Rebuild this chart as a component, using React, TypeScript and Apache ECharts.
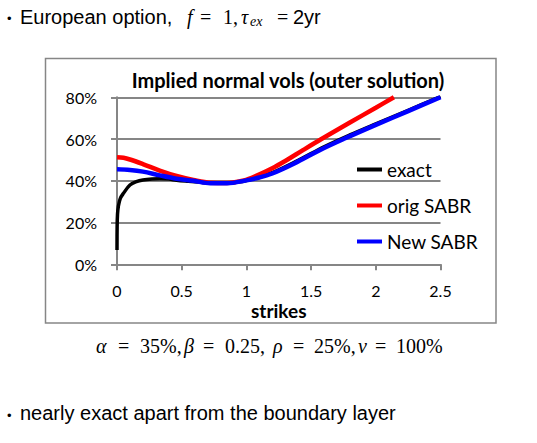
import React, { useEffect, useRef } from "react";
import * as echarts from "echarts";

// ---- data ----
const exactStrikes = [0, 0.001, 0.004, 0.01, 0.025, 0.05, 0.1, 0.15, 0.2, 0.27, 0.33, 0.4, 0.46, 0.55, 0.65, 0.75, 0.85, 0.95, 1.05, 1.2, 1.4, 1.6, 1.8, 2.0, 2.25, 2.5];
const exactVols = [0.068, 0.18, 0.24, 0.276, 0.315, 0.34, 0.38, 0.396, 0.404, 0.409, 0.41, 0.408, 0.403, 0.398, 0.393, 0.389, 0.389, 0.395, 0.41, 0.439, 0.498, 0.563, 0.62, 0.673, 0.738, 0.803];

const origStrikes = [0, 0.05, 0.1, 0.2, 0.33, 0.46, 0.59, 0.72, 0.85, 0.98, 1.08, 1.2, 1.3, 1.44, 1.58, 1.8, 2.0, 2.14];
const origVols = [0.513, 0.51, 0.502, 0.48, 0.449, 0.423, 0.404, 0.391, 0.39, 0.402, 0.425, 0.46, 0.495, 0.548, 0.6, 0.679, 0.75, 0.8];

const newStrikes = [0, 0.1, 0.2, 0.33, 0.46, 0.59, 0.72, 0.85, 1.0, 1.1, 1.2, 1.37, 1.57, 1.75, 2.0, 2.25, 2.5];
const newVols = [0.455, 0.452, 0.444, 0.426, 0.41, 0.4, 0.388, 0.388, 0.402, 0.416, 0.435, 0.483, 0.548, 0.6, 0.668, 0.734, 0.8];

const seriesNames = ["exact", "orig SABR", "New SABR"];
const seriesColors = ["#000000", "#ff0000", "#0000ff"];

const xTicks = { min: 0, max: 2.5, step: 0.5 };
const yTicks = { min: 0, max: 0.8, step: 0.2 };

const chartTitle = "Implied normal vols (outer solution)";
const xAxisName = "strikes";

const pair = (xs: number[], ys: number[]) => xs.map((x, i) => [x, ys[i]]);

const SANS = "'Liberation Sans', Arial, sans-serif";
const SERIF = "'Liberation Serif', 'Times New Roman', serif";
const CHART_FONT = "Lato, 'Open Sans', sans-serif";
const GRID = "#868686";

function txt(x: number, y: number, text: string, font: string, extra: any = {}) {
  return {
    type: "text",
    x,
    y,
    silent: true,
    style: { text, font, fill: "#000", align: "left", verticalAlign: "middle", ...extra },
  };
}

export default function App() {
  const ref = useRef<HTMLDivElement>(null);
  useEffect(() => {
    if (!ref.current) return;
    const chart = echarts.init(ref.current, null, { renderer: "svg" });
    const ser = [pair(exactStrikes, exactVols), pair(origStrikes, origVols), pair(newStrikes, newVols)];
    const widths = [3.5, 4.5, 4.5];
    const topY = 16.5;
    const botY = 346;
    const mf = `20px ${SERIF}`;
    const mi = `italic 20px ${SERIF}`;
    chart.setOption({
      animation: false,
      backgroundColor: "#ffffff",
      grid: { left: 117, right: 96.5, top: 97.3, bottom: 178.7, containLabel: false },
      legend: {
        show: true,
        orient: "vertical",
        left: 357,
        top: 160,
        padding: 0,
        itemGap: 17,
        itemWidth: 25,
        itemHeight: 4,
        icon: "rect",
        data: seriesNames,
        textStyle: { fontFamily: CHART_FONT, fontSize: 19, color: "#000", lineHeight: 19 },
      },
      xAxis: {
        type: "value",
        min: xTicks.min,
        max: xTicks.max,
        interval: xTicks.step,
        name: xAxisName,
        nameLocation: "middle",
        nameGap: 37,
        nameTextStyle: { fontFamily: CHART_FONT, fontSize: 19, fontWeight: "bold", color: "#000" },
        axisLine: { show: true, lineStyle: { color: GRID, width: 2 } },
        axisTick: { show: true, length: 6, lineStyle: { color: GRID, width: 2 } },
        axisLabel: { margin: 18, fontFamily: CHART_FONT, fontSize: 16, color: "#000" },
        splitLine: { show: false },
      },
      yAxis: {
        type: "value",
        min: yTicks.min,
        max: yTicks.max,
        interval: yTicks.step,
        axisLine: { show: true, lineStyle: { color: GRID, width: 2 } },
        axisTick: { show: true, length: 6, lineStyle: { color: GRID, width: 2 } },
        axisLabel: {
          margin: 20,
          fontFamily: CHART_FONT,
          fontSize: 16,
          color: "#000",
          formatter: (v: number) => `${Math.round(v * 100)}%`,
        },
        splitLine: { show: true, lineStyle: { color: GRID, width: 2 } },
      },
      series: seriesNames.map((name, i) => ({
        name,
        type: "line",
        data: ser[i],
        showSymbol: false,
        symbol: "none",
        smooth: 0.35,
        clip: true,
        color: seriesColors[i],
        lineStyle: { color: seriesColors[i], width: widths[i] },
        z: 2 + i,
      })),
      graphic: [
        {
          type: "rect",
          shape: { x: 45.5, y: 58.5, width: 450.5, height: 264.5 },
          style: { fill: "none", stroke: GRID, lineWidth: 1.5 },
          silent: true,
          z: -1,
        },
        {
          type: "text",
          x: 288,
          y: 80,
          silent: true,
          style: {
            text: chartTitle,
            font: `bold 20px ${CHART_FONT}`,
            fill: "#000",
            align: "center",
            verticalAlign: "middle",
          },
        },
        // top line
        txt(7, topY + 2, "•", `13px ${SANS}`),
        txt(20, topY, "European option,", `20px ${SANS}`),
        txt(187, topY, "f", mi),
        txt(200, topY, "=", mf),
        txt(223, topY, "1,", mf),
        txt(241, topY, "τ", mi),
        txt(250, topY + 5, "ex", `italic 14px ${SERIF}`),
        txt(277, topY, "=", mf),
        txt(293, topY, "2yr", `20px ${SANS}`),
        // parameters line
        txt(96, botY, "α", mi),
        txt(118, botY, "=", mf),
        txt(140, botY, "35%,", mf),
        txt(184, botY, "β", mi),
        txt(203, botY, "=", mf),
        txt(225, botY, "0.25,", mf),
        txt(273, botY, "ρ", mi),
        txt(293, botY, "=", mf),
        txt(314, botY, "25%,", mf),
        txt(358, botY, "ν", mi),
        txt(375, botY, "=", mf),
        txt(396, botY, "100%", mf),
        // bottom bullet
        txt(7, 415, "•", `13px ${SANS}`),
        txt(20, 413, "nearly exact apart from the boundary layer", `20px ${SANS}`),
      ],
    });
    return () => chart.dispose();
  }, []);
  return (
    <div
      ref={ref}
      style={{ position: "absolute", left: 0, top: 0, width: 537, height: 443, background: "#fff" }}
    />
  );
}
